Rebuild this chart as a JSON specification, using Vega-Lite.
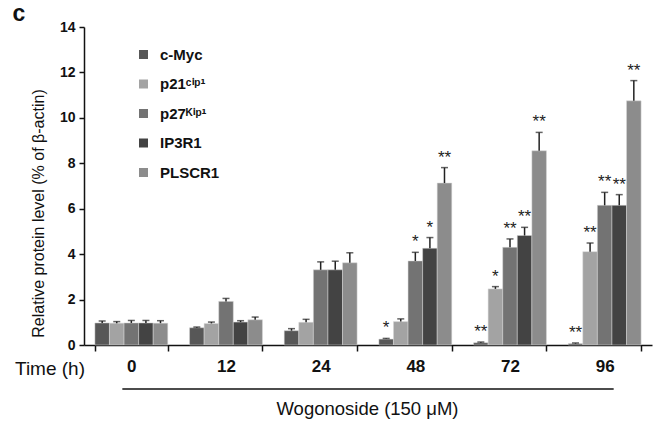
{
  "$schema": "https://vega.github.io/schema/vega-lite/v6.json",
  "width": 568,
  "height": 318,
  "autosize": {"type": "none"},
  "padding": {"left": 84, "top": 27, "right": 4, "bottom": 78},
  "background": "white",
  "config": {
    "view": {"stroke": null},
    "font": "Liberation Sans",
    "axis": {"labelFont": "Liberation Sans", "titleFont": "Liberation Sans"},
    "legend": {"labelFont": "Liberation Sans"}
  },
  "datasets": {
    "levels": [
      {"time": "0", "protein": "c-Myc", "value": 0.97, "upper": 1.06, "sig": ""},
      {"time": "0", "protein": "p21ᶜⁱᵖ¹", "value": 0.96, "upper": 1.03, "sig": ""},
      {"time": "0", "protein": "p27ᴷⁱᵖ¹", "value": 0.97, "upper": 1.08, "sig": ""},
      {"time": "0", "protein": "IP3R1", "value": 0.97, "upper": 1.08, "sig": ""},
      {"time": "0", "protein": "PLSCR1", "value": 0.96, "upper": 1.07, "sig": ""},
      {"time": "12", "protein": "c-Myc", "value": 0.76, "upper": 0.79, "sig": ""},
      {"time": "12", "protein": "p21ᶜⁱᵖ¹", "value": 0.95, "upper": 1.01, "sig": ""},
      {"time": "12", "protein": "p27ᴷⁱᵖ¹", "value": 1.92, "upper": 2.05, "sig": ""},
      {"time": "12", "protein": "IP3R1", "value": 1.01, "upper": 1.07, "sig": ""},
      {"time": "12", "protein": "PLSCR1", "value": 1.11, "upper": 1.23, "sig": ""},
      {"time": "24", "protein": "c-Myc", "value": 0.63, "upper": 0.72, "sig": ""},
      {"time": "24", "protein": "p21ᶜⁱᵖ¹", "value": 1.0, "upper": 1.13, "sig": ""},
      {"time": "24", "protein": "p27ᴷⁱᵖ¹", "value": 3.31, "upper": 3.66, "sig": ""},
      {"time": "24", "protein": "IP3R1", "value": 3.31, "upper": 3.69, "sig": ""},
      {"time": "24", "protein": "PLSCR1", "value": 3.62, "upper": 4.06, "sig": ""},
      {"time": "48", "protein": "c-Myc", "value": 0.26, "upper": 0.29, "sig": "*"},
      {"time": "48", "protein": "p21ᶜⁱᵖ¹", "value": 1.03, "upper": 1.15, "sig": ""},
      {"time": "48", "protein": "p27ᴷⁱᵖ¹", "value": 3.7, "upper": 4.08, "sig": "*"},
      {"time": "48", "protein": "IP3R1", "value": 4.26, "upper": 4.73, "sig": "*"},
      {"time": "48", "protein": "PLSCR1", "value": 7.13, "upper": 7.81, "sig": "**"},
      {"time": "72", "protein": "c-Myc", "value": 0.1, "upper": 0.13, "sig": "**"},
      {"time": "72", "protein": "p21ᶜⁱᵖ¹", "value": 2.47, "upper": 2.57, "sig": "*"},
      {"time": "72", "protein": "p27ᴷⁱᵖ¹", "value": 4.3, "upper": 4.67, "sig": "**"},
      {"time": "72", "protein": "IP3R1", "value": 4.82, "upper": 5.18, "sig": "**"},
      {"time": "72", "protein": "PLSCR1", "value": 8.55, "upper": 9.36, "sig": "**"},
      {"time": "96", "protein": "c-Myc", "value": 0.06, "upper": 0.09, "sig": "**"},
      {"time": "96", "protein": "p21ᶜⁱᵖ¹", "value": 4.11, "upper": 4.49, "sig": "**"},
      {"time": "96", "protein": "p27ᴷⁱᵖ¹", "value": 6.15, "upper": 6.72, "sig": "**"},
      {"time": "96", "protein": "IP3R1", "value": 6.15, "upper": 6.62, "sig": "**"},
      {"time": "96", "protein": "PLSCR1", "value": 10.75, "upper": 11.64, "sig": "**"}
    ]
  },
  "layer": [
    {
      "data": {"name": "levels"},
      "mark": {"type": "bar", "stroke": "#d9d9d9", "strokeWidth": 0.5},
      "encoding": {
        "x": {
          "field": "time", "type": "nominal",
          "scale": {"domain": ["0", "12", "24", "48", "72", "96"], "paddingInner": 0.23, "paddingOuter": 0.115},
          "axis": {
            "title": "Wogonoside (150 μM)",
            "titleFontSize": 18.5, "titleFontWeight": "normal", "titleColor": "#111",
            "titleX": 283, "titleY": 63, "titleBaseline": "middle", "titleAlign": "center",
            "labelAngle": 0, "labelFontSize": 17, "labelFontWeight": "bold", "labelColor": "#111",
            "labelPadding": 7, "tickBand": "extent", "tickSize": 6, "tickColor": "#111", "tickWidth": 1.5,
            "domainColor": "#111", "domainWidth": 1.5, "grid": false
          }
        },
        "xOffset": {
          "field": "protein", "type": "nominal",
          "scale": {"domain": ["c-Myc", "p21ᶜⁱᵖ¹", "p27ᴷⁱᵖ¹", "IP3R1", "PLSCR1"], "paddingInner": 0, "paddingOuter": 0}
        },
        "y": {
          "field": "value", "type": "quantitative",
          "scale": {"domain": [0, 14], "nice": false},
          "axis": {
            "values": [0, 2, 4, 6, 8, 10, 12, 14],
            "title": "Relative protein level (% of β-actin)",
            "titleFontSize": 16, "titleFontWeight": "normal", "titleColor": "#111",
            "titleX": -46, "titleY": 186, "titleAlign": "center", "titleBaseline": "middle", "titleAngle": 270,
            "labelFontSize": 14, "labelFontWeight": "bold", "labelColor": "#111", "labelPadding": 4,
            "tickSize": 5, "tickColor": "#111", "tickWidth": 1.5,
            "domainColor": "#111", "domainWidth": 1.5, "grid": false
          }
        },
        "color": {
          "field": "protein", "type": "nominal",
          "scale": {
            "domain": ["c-Myc", "p21ᶜⁱᵖ¹", "p27ᴷⁱᵖ¹", "IP3R1", "PLSCR1"],
            "range": ["#575757", "#a3a3a3", "#737373", "#434343", "#8c8c8c"]
          },
          "legend": {
            "orient": "none", "legendX": 52, "legendY": 20, "title": null,
            "symbolType": "square", "symbolSize": 81, "symbolStrokeWidth": 0,
            "labelFontSize": 15, "labelFontWeight": "bold", "labelColor": "#111",
            "labelOffset": 9, "rowPadding": 13.5
          }
        }
      }
    },
    {
      "data": {"name": "levels"},
      "mark": {"type": "rule", "color": "#222", "strokeWidth": 1.5},
      "encoding": {
        "x": {"field": "time", "type": "nominal"},
        "xOffset": {"field": "protein", "type": "nominal"},
        "y": {"field": "value", "type": "quantitative"},
        "y2": {"field": "upper"}
      }
    },
    {
      "data": {"name": "levels"},
      "mark": {"type": "tick", "color": "#222", "size": 7, "thickness": 1.5, "orient": "horizontal"},
      "encoding": {
        "x": {"field": "time", "type": "nominal"},
        "xOffset": {"field": "protein", "type": "nominal"},
        "y": {"field": "upper", "type": "quantitative"}
      }
    },
    {
      "data": {"name": "levels"},
      "mark": {"type": "text", "color": "#222", "fontSize": 17, "dy": -5, "baseline": "alphabetic"},
      "encoding": {
        "x": {"field": "time", "type": "nominal"},
        "xOffset": {"field": "protein", "type": "nominal"},
        "y": {"field": "upper", "type": "quantitative"},
        "text": {"field": "sig"}
      }
    },
    {
      "data": {"values": [{"from": "0", "to": "96"}]},
      "mark": {"type": "rule", "color": "#111", "strokeWidth": 1.5, "xOffset": -9, "x2Offset": 9, "clip": false},
      "encoding": {
        "x": {"field": "from", "type": "nominal"},
        "x2": {"field": "to"},
        "y": {"value": 362}
      }
    },
    {
      "data": {"values": [{"label": "Time (h)"}]},
      "mark": {"type": "text", "fontSize": 19, "color": "#111", "align": "center", "baseline": "middle"},
      "encoding": {
        "x": {"value": -34},
        "y": {"value": 342},
        "text": {"field": "label"}
      }
    },
    {
      "data": {"values": [{"label": "c"}]},
      "mark": {"type": "text", "fontSize": 23, "fontWeight": "bold", "color": "#111", "align": "center", "baseline": "middle"},
      "encoding": {
        "x": {"value": -65},
        "y": {"value": -13},
        "text": {"field": "label"}
      }
    }
  ]
}
